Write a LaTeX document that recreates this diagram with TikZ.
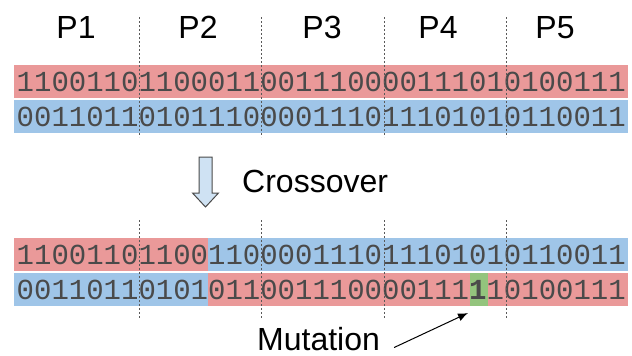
\documentclass[tikz,border=0pt]{standalone}
\usepackage{fontspec}
\setmainfont{Liberation Sans}
\newfontfamily\bitfont{Liberation Mono}
\usetikzlibrary{positioning,calc,arrows.meta}
\definecolor{redrow}{HTML}{EA9999}
\definecolor{bluerow}{HTML}{9FC5E8}
\definecolor{mutgreen}{HTML}{93C47D}
\definecolor{arrowblue}{HTML}{CFE2F3}
\definecolor{bitgray}{HTML}{4A4A4A}

\begin{document}
\begin{tikzpicture}[x=1pt,y=-1pt,
 band/.style={minimum width=614pt,minimum height=33pt,inner sep=0pt,outer sep=0pt},
 bits/.style={anchor=west,inner sep=0pt,text=bitgray,font=\bitfont\fontsize{29}{30}\selectfont},
 label/.style={inner sep=0pt,font=\fontsize{32}{34}\selectfont},
 divider/.style={black!65,dash pattern=on 2pt off 2pt,line width=0.9pt}]
 \useasboundingbox (0,0) rectangle (632,356);
 \node[band,fill=redrow] (par1) at (321,81.5) {};
 \node[band,fill=bluerow,below=2pt of par1] (par2) {};
 \node[band,fill=bluerow] (kid1) at (321,254.5) {};
 \node[band,fill=redrow,below=2pt of kid1] (kid2) {};
 \fill[redrow] (kid1.north west) rectangle ([xshift=193.5pt]kid1.south west);
 \fill[bluerow] (kid2.north west) rectangle ([xshift=193.5pt]kid2.south west);
 \node[band,fill=mutgreen,minimum width=17.5pt] (flip) at (478.75,289.5) {};
 \node[bits] (bits1) at ([xshift=2.5pt]par1.west) {11001101100011001110000111010100111};
 \node[bits] (bits2) at ([xshift=2.5pt]par2.west) {00110110101110000111011101010110011};
 \node[bits] (bits3) at ([xshift=2.5pt]kid1.west) {11001101100110000111011101010110011};
 \node[bits] (bits4) at ([xshift=2.5pt]kid2.west) {00110110101011001110000111{\bfseries 1}10100111};
 \foreach \x in {139,261.5,384,506.5} {
  \draw[divider] (\x,17) -- (\x,137);
  \draw[divider] (\x,220) -- (\x,318);
 }
 \foreach \name/\x in {P1/76,P2/198,P3/322,P4/438,P5/555}
  \node[label,anchor=base] (\name) at (\x,38) {\name};
 \draw[fill=arrowblue,draw=bitgray,line width=1pt] (199,157) -- ++(13,0) -- ++(0,36) -- ++(6.5,0)
  -- (205.5,207) -- (192.5,193) -- ++(6.5,0) -- cycle;
 \node[label,anchor=base west] (xover) at (242,192) {Crossover};
 \node[label,anchor=base west] (mut) at (257,350) {Mutation};
 \coordinate[right=14pt of mut.south east] (mtail);
 \draw[-{Latex[length=10pt,width=8pt]},line width=1pt] ([yshift=3pt]mtail) -- ([xshift=-2pt,yshift=-7pt]flip.south west);
\end{tikzpicture}
\end{document}
